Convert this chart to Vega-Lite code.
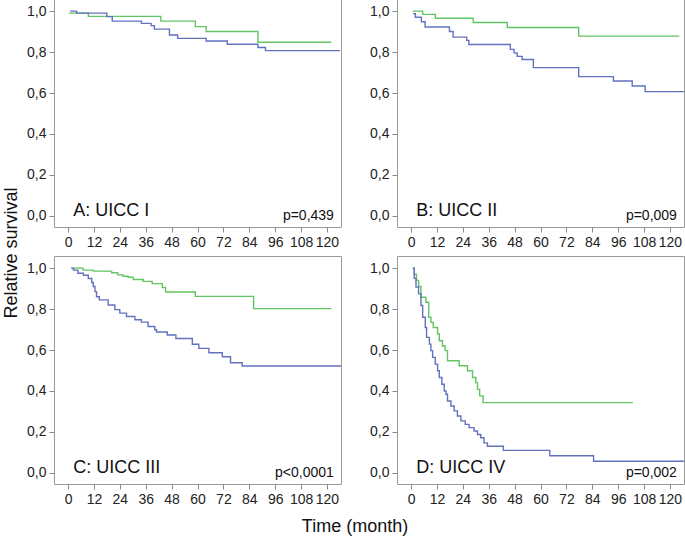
{
  "$schema": "https://vega.github.io/schema/vega-lite/v6.json",
  "padding": {"left": 2, "top": -2, "right": 0, "bottom": 0},
  "config": {
    "font": "Liberation Sans",
    "locale": {"number": {"decimal": ",", "thousands": ".", "grouping": [3], "currency": ["", " €"]}},
    "view": {"stroke": "#9a9a9a", "strokeWidth": 1},
    "axis": {"domain": false, "tickColor": "#8a8a8a", "tickSize": 5, "labelFontSize": 14, "labelColor": "#222222", "grid": false, "labelOverlap": false, "labelFlush": false, "labelPadding": 3},
    "header": {"titleFontWeight": "normal", "titleFontSize": 18, "titleColor": "#111111"}
  },
  "data": {"values": [
    {"k":"curve","r":1,"c":1,"g":"green","t":0.5,"s":0.99},
    {"k":"curve","r":1,"c":1,"g":"green","t":9.4,"s":0.974},
    {"k":"curve","r":1,"c":1,"g":"green","t":43,"s":0.951},
    {"k":"curve","r":1,"c":1,"g":"green","t":59,"s":0.924},
    {"k":"curve","r":1,"c":1,"g":"green","t":64,"s":0.90},
    {"k":"curve","r":1,"c":1,"g":"green","t":88,"s":0.848},
    {"k":"curve","r":1,"c":1,"g":"green","t":122,"s":0.848},
    {"k":"curve","r":1,"c":1,"g":"blue","t":1,"s":1.0},
    {"k":"curve","r":1,"c":1,"g":"blue","t":4,"s":0.99},
    {"k":"curve","r":1,"c":1,"g":"blue","t":18,"s":0.973},
    {"k":"curve","r":1,"c":1,"g":"blue","t":20.5,"s":0.951},
    {"k":"curve","r":1,"c":1,"g":"blue","t":34,"s":0.94},
    {"k":"curve","r":1,"c":1,"g":"blue","t":38.5,"s":0.929},
    {"k":"curve","r":1,"c":1,"g":"blue","t":40,"s":0.912},
    {"k":"curve","r":1,"c":1,"g":"blue","t":47,"s":0.883},
    {"k":"curve","r":1,"c":1,"g":"blue","t":50.8,"s":0.867},
    {"k":"curve","r":1,"c":1,"g":"blue","t":64,"s":0.854},
    {"k":"curve","r":1,"c":1,"g":"blue","t":73.8,"s":0.838},
    {"k":"curve","r":1,"c":1,"g":"blue","t":88,"s":0.822},
    {"k":"curve","r":1,"c":1,"g":"blue","t":91.5,"s":0.807},
    {"k":"curve","r":1,"c":1,"g":"blue","t":126,"s":0.807},

    {"k":"curve","r":1,"c":2,"g":"green","t":0.8,"s":1.0},
    {"k":"curve","r":1,"c":2,"g":"green","t":5.4,"s":0.984},
    {"k":"curve","r":1,"c":2,"g":"green","t":11.3,"s":0.965},
    {"k":"curve","r":1,"c":2,"g":"green","t":28.8,"s":0.944},
    {"k":"curve","r":1,"c":2,"g":"green","t":44.6,"s":0.92},
    {"k":"curve","r":1,"c":2,"g":"green","t":77.7,"s":0.878},
    {"k":"curve","r":1,"c":2,"g":"green","t":124.3,"s":0.878},
    {"k":"curve","r":1,"c":2,"g":"blue","t":1,"s":0.987},
    {"k":"curve","r":1,"c":2,"g":"blue","t":2,"s":0.97},
    {"k":"curve","r":1,"c":2,"g":"blue","t":4.8,"s":0.948},
    {"k":"curve","r":1,"c":2,"g":"blue","t":6.5,"s":0.922},
    {"k":"curve","r":1,"c":2,"g":"blue","t":17.8,"s":0.90},
    {"k":"curve","r":1,"c":2,"g":"blue","t":19.5,"s":0.873},
    {"k":"curve","r":1,"c":2,"g":"blue","t":25.8,"s":0.857},
    {"k":"curve","r":1,"c":2,"g":"blue","t":26.8,"s":0.837},
    {"k":"curve","r":1,"c":2,"g":"blue","t":46,"s":0.813},
    {"k":"curve","r":1,"c":2,"g":"blue","t":47.7,"s":0.796},
    {"k":"curve","r":1,"c":2,"g":"blue","t":49.2,"s":0.779},
    {"k":"curve","r":1,"c":2,"g":"blue","t":51.5,"s":0.764},
    {"k":"curve","r":1,"c":2,"g":"blue","t":56.7,"s":0.724},
    {"k":"curve","r":1,"c":2,"g":"blue","t":77.7,"s":0.68},
    {"k":"curve","r":1,"c":2,"g":"blue","t":93.8,"s":0.659},
    {"k":"curve","r":1,"c":2,"g":"blue","t":102.5,"s":0.634},
    {"k":"curve","r":1,"c":2,"g":"blue","t":108.5,"s":0.607},
    {"k":"curve","r":1,"c":2,"g":"blue","t":127,"s":0.607},

    {"k":"curve","r":2,"c":1,"g":"green","t":1.5,"s":1.0},
    {"k":"curve","r":2,"c":1,"g":"green","t":7,"s":0.99},
    {"k":"curve","r":2,"c":1,"g":"green","t":11.7,"s":0.985},
    {"k":"curve","r":2,"c":1,"g":"green","t":20.2,"s":0.977},
    {"k":"curve","r":2,"c":1,"g":"green","t":23,"s":0.967},
    {"k":"curve","r":2,"c":1,"g":"green","t":25.5,"s":0.96},
    {"k":"curve","r":2,"c":1,"g":"green","t":27.8,"s":0.955},
    {"k":"curve","r":2,"c":1,"g":"green","t":30.2,"s":0.944},
    {"k":"curve","r":2,"c":1,"g":"green","t":34.8,"s":0.935},
    {"k":"curve","r":2,"c":1,"g":"green","t":39,"s":0.924},
    {"k":"curve","r":2,"c":1,"g":"green","t":43.7,"s":0.905},
    {"k":"curve","r":2,"c":1,"g":"green","t":45.2,"s":0.883},
    {"k":"curve","r":2,"c":1,"g":"green","t":59,"s":0.862},
    {"k":"curve","r":2,"c":1,"g":"green","t":86,"s":0.802},
    {"k":"curve","r":2,"c":1,"g":"green","t":122,"s":0.802},
    {"k":"curve","r":2,"c":1,"g":"blue","t":1.5,"s":1.0},
    {"k":"curve","r":2,"c":1,"g":"blue","t":2.5,"s":0.99},
    {"k":"curve","r":2,"c":1,"g":"blue","t":4.6,"s":0.975},
    {"k":"curve","r":2,"c":1,"g":"blue","t":7.1,"s":0.965},
    {"k":"curve","r":2,"c":1,"g":"blue","t":9.4,"s":0.949},
    {"k":"curve","r":2,"c":1,"g":"blue","t":11,"s":0.93},
    {"k":"curve","r":2,"c":1,"g":"blue","t":11.7,"s":0.91},
    {"k":"curve","r":2,"c":1,"g":"blue","t":12.5,"s":0.885},
    {"k":"curve","r":2,"c":1,"g":"blue","t":13.2,"s":0.86},
    {"k":"curve","r":2,"c":1,"g":"blue","t":14.5,"s":0.845},
    {"k":"curve","r":2,"c":1,"g":"blue","t":18.6,"s":0.82},
    {"k":"curve","r":2,"c":1,"g":"blue","t":21.7,"s":0.797},
    {"k":"curve","r":2,"c":1,"g":"blue","t":24,"s":0.78},
    {"k":"curve","r":2,"c":1,"g":"blue","t":27.1,"s":0.764},
    {"k":"curve","r":2,"c":1,"g":"blue","t":31,"s":0.748},
    {"k":"curve","r":2,"c":1,"g":"blue","t":34,"s":0.736},
    {"k":"curve","r":2,"c":1,"g":"blue","t":37.1,"s":0.715},
    {"k":"curve","r":2,"c":1,"g":"blue","t":40.2,"s":0.699},
    {"k":"curve","r":2,"c":1,"g":"blue","t":41,"s":0.688},
    {"k":"curve","r":2,"c":1,"g":"blue","t":46,"s":0.673},
    {"k":"curve","r":2,"c":1,"g":"blue","t":50,"s":0.656},
    {"k":"curve","r":2,"c":1,"g":"blue","t":57.6,"s":0.628},
    {"k":"curve","r":2,"c":1,"g":"blue","t":60.6,"s":0.608},
    {"k":"curve","r":2,"c":1,"g":"blue","t":65.3,"s":0.587},
    {"k":"curve","r":2,"c":1,"g":"blue","t":71.5,"s":0.567},
    {"k":"curve","r":2,"c":1,"g":"blue","t":75.3,"s":0.538},
    {"k":"curve","r":2,"c":1,"g":"blue","t":80.7,"s":0.522},
    {"k":"curve","r":2,"c":1,"g":"blue","t":127,"s":0.522},

    {"k":"curve","r":2,"c":2,"g":"green","t":0.8,"s":1.0},
    {"k":"curve","r":2,"c":2,"g":"green","t":1.5,"s":0.97},
    {"k":"curve","r":2,"c":2,"g":"green","t":2.5,"s":0.94},
    {"k":"curve","r":2,"c":2,"g":"green","t":3.5,"s":0.91},
    {"k":"curve","r":2,"c":2,"g":"green","t":4.6,"s":0.858},
    {"k":"curve","r":2,"c":2,"g":"green","t":6.9,"s":0.833},
    {"k":"curve","r":2,"c":2,"g":"green","t":8.2,"s":0.76},
    {"k":"curve","r":2,"c":2,"g":"green","t":9.2,"s":0.735},
    {"k":"curve","r":2,"c":2,"g":"green","t":10.3,"s":0.71},
    {"k":"curve","r":2,"c":2,"g":"green","t":12.3,"s":0.678},
    {"k":"curve","r":2,"c":2,"g":"green","t":13.1,"s":0.645},
    {"k":"curve","r":2,"c":2,"g":"green","t":14.6,"s":0.62},
    {"k":"curve","r":2,"c":2,"g":"green","t":15.8,"s":0.597},
    {"k":"curve","r":2,"c":2,"g":"green","t":16.9,"s":0.548},
    {"k":"curve","r":2,"c":2,"g":"green","t":22.3,"s":0.523},
    {"k":"curve","r":2,"c":2,"g":"green","t":26.2,"s":0.499},
    {"k":"curve","r":2,"c":2,"g":"green","t":28.5,"s":0.466},
    {"k":"curve","r":2,"c":2,"g":"green","t":30,"s":0.441},
    {"k":"curve","r":2,"c":2,"g":"green","t":30.8,"s":0.408},
    {"k":"curve","r":2,"c":2,"g":"green","t":31.8,"s":0.376},
    {"k":"curve","r":2,"c":2,"g":"green","t":33.4,"s":0.343},
    {"k":"curve","r":2,"c":2,"g":"green","t":102.8,"s":0.343},
    {"k":"curve","r":2,"c":2,"g":"blue","t":0.8,"s":1.0},
    {"k":"curve","r":2,"c":2,"g":"blue","t":1.5,"s":0.95},
    {"k":"curve","r":2,"c":2,"g":"blue","t":2.3,"s":0.907},
    {"k":"curve","r":2,"c":2,"g":"blue","t":3.5,"s":0.874},
    {"k":"curve","r":2,"c":2,"g":"blue","t":4.6,"s":0.817},
    {"k":"curve","r":2,"c":2,"g":"blue","t":5.4,"s":0.76},
    {"k":"curve","r":2,"c":2,"g":"blue","t":6.6,"s":0.71},
    {"k":"curve","r":2,"c":2,"g":"blue","t":7.2,"s":0.662},
    {"k":"curve","r":2,"c":2,"g":"blue","t":8.5,"s":0.629},
    {"k":"curve","r":2,"c":2,"g":"blue","t":9.2,"s":0.597},
    {"k":"curve","r":2,"c":2,"g":"blue","t":10,"s":0.564},
    {"k":"curve","r":2,"c":2,"g":"blue","t":11.2,"s":0.531},
    {"k":"curve","r":2,"c":2,"g":"blue","t":12.3,"s":0.499},
    {"k":"curve","r":2,"c":2,"g":"blue","t":13.1,"s":0.466},
    {"k":"curve","r":2,"c":2,"g":"blue","t":14.3,"s":0.433},
    {"k":"curve","r":2,"c":2,"g":"blue","t":15.4,"s":0.40},
    {"k":"curve","r":2,"c":2,"g":"blue","t":16.2,"s":0.384},
    {"k":"curve","r":2,"c":2,"g":"blue","t":16.9,"s":0.351},
    {"k":"curve","r":2,"c":2,"g":"blue","t":18.5,"s":0.327},
    {"k":"curve","r":2,"c":2,"g":"blue","t":20,"s":0.303},
    {"k":"curve","r":2,"c":2,"g":"blue","t":21.5,"s":0.278},
    {"k":"curve","r":2,"c":2,"g":"blue","t":23.1,"s":0.254},
    {"k":"curve","r":2,"c":2,"g":"blue","t":25.1,"s":0.237},
    {"k":"curve","r":2,"c":2,"g":"blue","t":26.9,"s":0.221},
    {"k":"curve","r":2,"c":2,"g":"blue","t":29.2,"s":0.205},
    {"k":"curve","r":2,"c":2,"g":"blue","t":30.8,"s":0.188},
    {"k":"curve","r":2,"c":2,"g":"blue","t":32.3,"s":0.172},
    {"k":"curve","r":2,"c":2,"g":"blue","t":33.8,"s":0.147},
    {"k":"curve","r":2,"c":2,"g":"blue","t":35.4,"s":0.13},
    {"k":"curve","r":2,"c":2,"g":"blue","t":42.8,"s":0.11},
    {"k":"curve","r":2,"c":2,"g":"blue","t":64.3,"s":0.084},
    {"k":"curve","r":2,"c":2,"g":"blue","t":84.6,"s":0.057},
    {"k":"curve","r":2,"c":2,"g":"blue","t":127,"s":0.057},

    {"k":"note","r":1,"c":1,"name":"A: UICC I","p":"p=0,439"},
    {"k":"note","r":1,"c":2,"name":"B: UICC II","p":"p=0,009"},
    {"k":"note","r":2,"c":1,"name":"C: UICC III","p":"p<0,0001"},
    {"k":"note","r":2,"c":2,"name":"D: UICC IV","p":"p=0,002"}
  ]},
  "facet": {
    "row": {"field": "r", "type": "ordinal", "header": {"title": "Relative survival", "labels": false, "titlePadding": -5}},
    "column": {"field": "c", "type": "ordinal", "header": {"title": "Time (month)", "labels": false, "titleOrient": "bottom", "titlePadding": 1}}
  },
  "spacing": {"row": 5, "column": 27},
  "resolve": {"axis": {"x": "independent", "y": "independent"}},
  "spec": {
    "width": 287,
    "height": 228,
    "layer": [
      {
        "transform": [{"filter": "datum.k === 'curve'"}],
        "mark": {"type": "line", "interpolate": "step-after", "strokeWidth": 1.4, "clip": true},
        "encoding": {
          "x": {"field": "t", "type": "quantitative", "scale": {"domain": [-6.5, 126.5], "nice": false, "zero": false},
                "axis": {"title": null, "values": [0,12,24,36,48,60,72,84,96,108,120], "labelOverlap": false, "labelFlush": false, "format": "d"}},
          "y": {"field": "s", "type": "quantitative", "scale": {"domain": [-0.054, 1.059], "nice": false, "zero": false},
                "axis": {"title": null, "values": [0,0.2,0.4,0.6,0.8,1.0], "format": ".1f", "labelOverlap": false}},
          "color": {"field": "g", "type": "nominal", "scale": {"domain": ["green","blue"], "range": ["#62c462","#6272c0"]}, "legend": null},
          "detail": {"field": "g"}
        }
      },
      {
        "transform": [{"filter": "datum.k === 'note'"}],
        "mark": {"type": "text", "align": "left", "baseline": "middle", "fontSize": 18, "color": "#111111"},
        "encoding": {
          "x": {"datum": 2.4, "type": "quantitative", "axis": {"title": null, "values": [0,12,24,36,48,60,72,84,96,108,120], "labelOverlap": false, "labelFlush": false, "format": "d"}},
          "y": {"datum": 0.022, "type": "quantitative", "axis": {"title": null, "values": [0,0.2,0.4,0.6,0.8,1.0], "format": ".1f", "labelOverlap": false}},
          "text": {"field": "name"}
        }
      },
      {
        "transform": [{"filter": "datum.k === 'note'"}],
        "mark": {"type": "text", "align": "right", "baseline": "middle", "fontSize": 14, "color": "#111111"},
        "encoding": {
          "x": {"datum": 123.2, "type": "quantitative", "axis": {"title": null, "values": [0,12,24,36,48,60,72,84,96,108,120], "labelOverlap": false, "labelFlush": false, "format": "d"}},
          "y": {"datum": 0.0, "type": "quantitative", "axis": {"title": null, "values": [0,0.2,0.4,0.6,0.8,1.0], "format": ".1f", "labelOverlap": false}},
          "text": {"field": "p"}
        }
      }
    ]
  }
}
